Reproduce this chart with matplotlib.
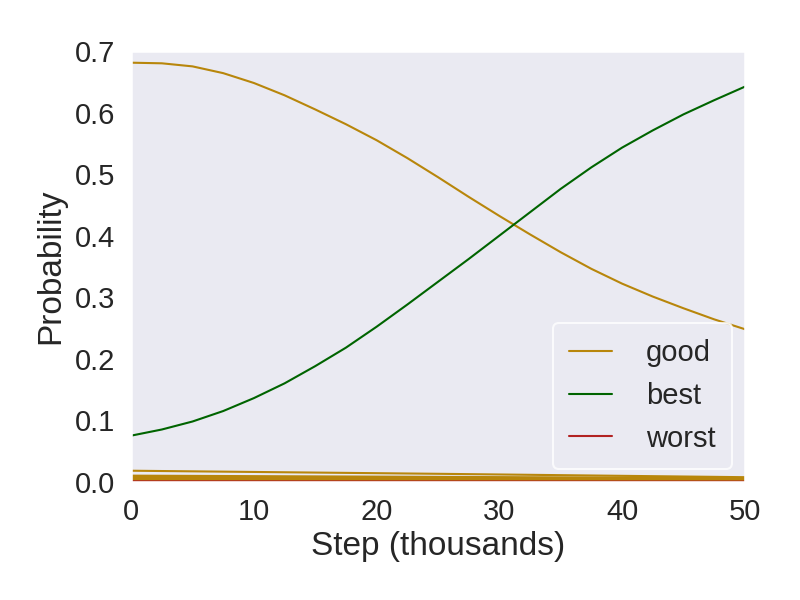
import numpy as np
import matplotlib
matplotlib.use("Agg")
from matplotlib import pyplot as plt
import seaborn as sns

# steps in thousands
steps = [0, 2.5, 5, 7.5, 10, 12.5, 15, 17.5, 20, 22.5, 25,
         27.5, 30, 32.5, 35, 37.5, 40, 42.5, 45, 47.5, 50]

good = [0.681, 0.680, 0.675, 0.664, 0.648, 0.628, 0.605, 0.581, 0.555, 0.526, 0.495,
        0.463, 0.432, 0.402, 0.373, 0.346, 0.322, 0.301, 0.282, 0.264, 0.248]
best = [0.075, 0.085, 0.098, 0.115, 0.136, 0.160, 0.188, 0.218, 0.252, 0.288, 0.325,
        0.362, 0.400, 0.438, 0.476, 0.511, 0.543, 0.571, 0.597, 0.620, 0.642]

# the small options near zero
small_steps = [0, 25, 50]
good_small = [
    [0.0180, 0.0130, 0.0075],
    [0.0100, 0.0080, 0.0060],
    [0.0080, 0.0065, 0.0050],
    [0.0060, 0.0045, 0.0035],
    [0.0040, 0.0030, 0.0020],
    [0.0025, 0.0018, 0.0012],
]
worst = [0.0008, 0.0006, 0.0004]

GOOD_C = "darkgoldenrod"
BEST_C = "darkgreen"
WORST_C = "firebrick"

sns.set_theme(style="dark", context="talk")
plt.rcParams['font.family'] = ['Liberation Sans', 'DejaVu Sans']

fig, ax = plt.subplots(figsize=(8, 6), dpi=100)
fig.subplots_adjust(left=0.164, right=0.931, top=0.915, bottom=0.197)

for vals in good_small:
    ax.plot(small_steps, vals, color=GOOD_C, lw=1.5)
ax.plot(small_steps, worst, color=WORST_C, lw=1.5, label="worst")
ax.plot(steps, good, color=GOOD_C, lw=1.5, label="good")
ax.plot(steps, best, color=BEST_C, lw=1.5, label="best")

ax.set_xlim(0, 50)
ax.set_ylim(0, 0.7)
ax.set_xticks([0, 10, 20, 30, 40, 50])
ax.set_yticks(np.arange(0, 0.71, 0.1))
ax.set_xlabel("Step (thousands)", fontsize=24, labelpad=4)
ax.set_ylabel("Probability", fontsize=24, labelpad=6)
ax.tick_params(labelsize=21, pad=2.5)

h, l = ax.get_legend_handles_labels()
order = [l.index("good"), l.index("best"), l.index("worst")]
leg = ax.legend([h[i] for i in order], [l[i] for i in order], loc="lower right",
                fontsize=21, handletextpad=1.15, handlelength=1.5,
                borderpad=0.55, borderaxespad=0.45, edgecolor="white")

fig.savefig("out.png")
